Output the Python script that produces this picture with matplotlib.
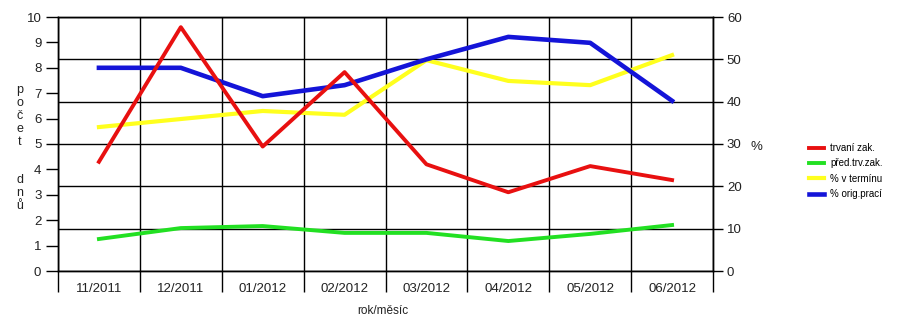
import matplotlib
matplotlib.use("Agg")
import matplotlib.pyplot as plt
import numpy as np

plt.rcParams["font.family"] = ["Liberation Sans", "DejaVu Sans"]

RED = "#e81010"
GREEN = "#22e022"
YELLOW = "#ffff1e"
BLUE = "#1414d8"

months = ["11/2011", "12/2011", "01/2012", "02/2012", "03/2012", "04/2012", "05/2012", "06/2012"]
trvani_zak = [4.3, 9.6, 4.9, 7.83, 4.2, 3.1, 4.13, 3.58]       # days
pred_trv_zak = [1.26, 1.69, 1.77, 1.5, 1.5, 1.18, 1.46, 1.81]  # days
v_terminu = [34.0, 35.9, 37.8, 36.9, 49.8, 44.9, 43.9, 51.0]   # %
orig_praci = [48.0, 48.0, 41.3, 43.9, 50.0, 55.3, 53.9, 40.2]  # %

fig = plt.figure(figsize=(8.99, 3.16), dpi=100)
fig.patch.set_facecolor("white")
ax = fig.add_axes([58 / 899, 1 - 271 / 316, (713 - 58) / 899, (271 - 17) / 316])
ax2 = ax.twinx()

x = np.arange(len(months))

# grid (on the % axis, under all lines)
ax2.set_ylim(0, 60)
ax2.set_yticks(np.arange(0, 61, 10))
ax2.grid(axis="y", color="black", linewidth=1)
for b in np.arange(-0.5, len(months), 1.0):
    ax2.axvline(b, color="black", linewidth=1, zorder=1)

ax2.plot(x, v_terminu, color=YELLOW, linewidth=3, label="% v termínu", zorder=3)
ax2.plot(x, orig_praci, color=BLUE, linewidth=3.3, label="% orig.prací", zorder=3)

ax.set_zorder(ax2.get_zorder() + 1)
ax.patch.set_visible(False)
ax.plot(x, trvani_zak, color=RED, linewidth=2.8, label="trvaní zak.")
ax.plot(x, pred_trv_zak, color=GREEN, linewidth=2.8, label="před.trv.zak.")

ax.set_ylim(0, 10)
ax.set_yticks(np.arange(0, 11, 1))
ax.set_xlim(-0.5, len(months) - 0.5)
ax.set_xticks(x)
ax.set_xticklabels(months)
ax.set_xticks(np.arange(-0.5, len(months), 1.0), minor=True)
ax.tick_params(axis="x", which="major", length=0, pad=9, labelsize=9.5, colors="#222222")
ax.tick_params(axis="x", which="minor", length=15, width=1, color="black", direction="out")
ax.tick_params(axis="y", length=9, width=1, color="black", labelsize=9.5, labelcolor="#222222", pad=3)
ax2.tick_params(axis="y", length=7, width=1, color="black", labelsize=9.5, labelcolor="#222222", pad=3)

for a in (ax, ax2):
    for s in a.spines.values():
        s.set_color("black")
        s.set_linewidth(1)

# axis titles
fig.text(20 / 899, 1 - 148 / 316, "\n".join("počet  dnů"), ha="center", va="center",
         fontsize=9, color="#222222", linespacing=1.1)
fig.text(756 / 899, 1 - 147 / 316, "%", ha="center", va="center", fontsize=9.5, color="#222222")
fig.text(383 / 899, 1 - 311 / 316, "rok/měsíc", ha="center", va="center", fontsize=8.5, color="#222222")

h1, l1 = ax.get_legend_handles_labels()
h2, l2 = ax2.get_legend_handles_labels()
leg = fig.legend(h1 + h2, l1 + l2, loc="center left", bbox_to_anchor=(800 / 899, 1 - 171 / 316),
                 frameon=False, fontsize=7, handlelength=1.6, handletextpad=0.6, labelspacing=0.55)

fig.savefig("out.png", dpi=100)
